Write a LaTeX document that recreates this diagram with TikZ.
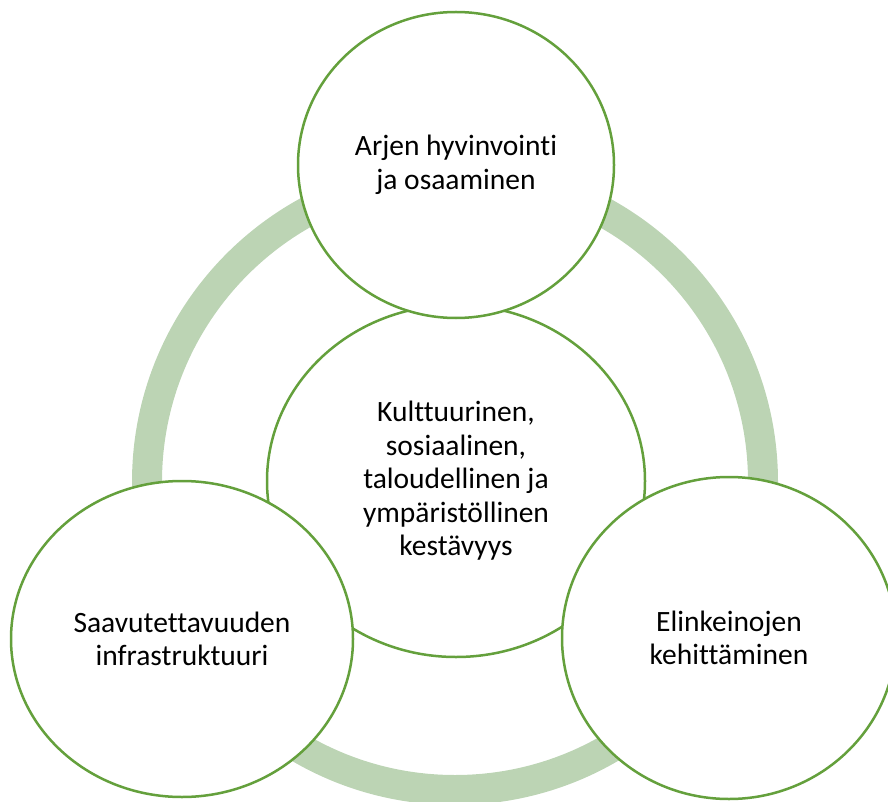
\documentclass[tikz,border=0pt]{standalone}
\usepackage{fontspec}
\setmainfont[Ligatures=NoCommon]{Carlito}
\usetikzlibrary{shapes.geometric}
\definecolor{ringgreen}{HTML}{BCD4B4}
\definecolor{edgegreen}{HTML}{64A03C}
\begin{document}
\begin{tikzpicture}[x=1pt,y=-1pt,
  bubble/.style={ellipse, draw=edgegreen, line width=2.5pt, fill=white, inner sep=0pt, align=center, font=\fontsize{29.5}{33.5}\selectfont},
  ringline/.style={draw=ringgreen, line width=30pt}]
\useasboundingbox (0,0) rectangle (888,802);
\clip (0,0) rectangle (888,802);
\coordinate (rc) at (455,482);
\draw[ringline] (rc) circle[radius=308pt];
\node[bubble, minimum width=378pt, minimum height=352pt] (mid) at (456,481) {Kulttuurinen,\\sosiaalinen,\\taloudellinen ja\\ympäristöllinen\\kestävyys};
\node[bubble, minimum width=316pt, minimum height=306pt] (top) at (456,165) {Arjen hyvinvointi\\ja osaaminen};
\node[bubble, minimum width=342pt, minimum height=316pt] (left) at (182,639) {Saavutettavuuden\\infrastruktuuri};
\node[bubble, minimum width=334pt, minimum height=322pt] (right) at (729,638) {Elinkeinojen\\kehittäminen};
\end{tikzpicture}
\end{document}
